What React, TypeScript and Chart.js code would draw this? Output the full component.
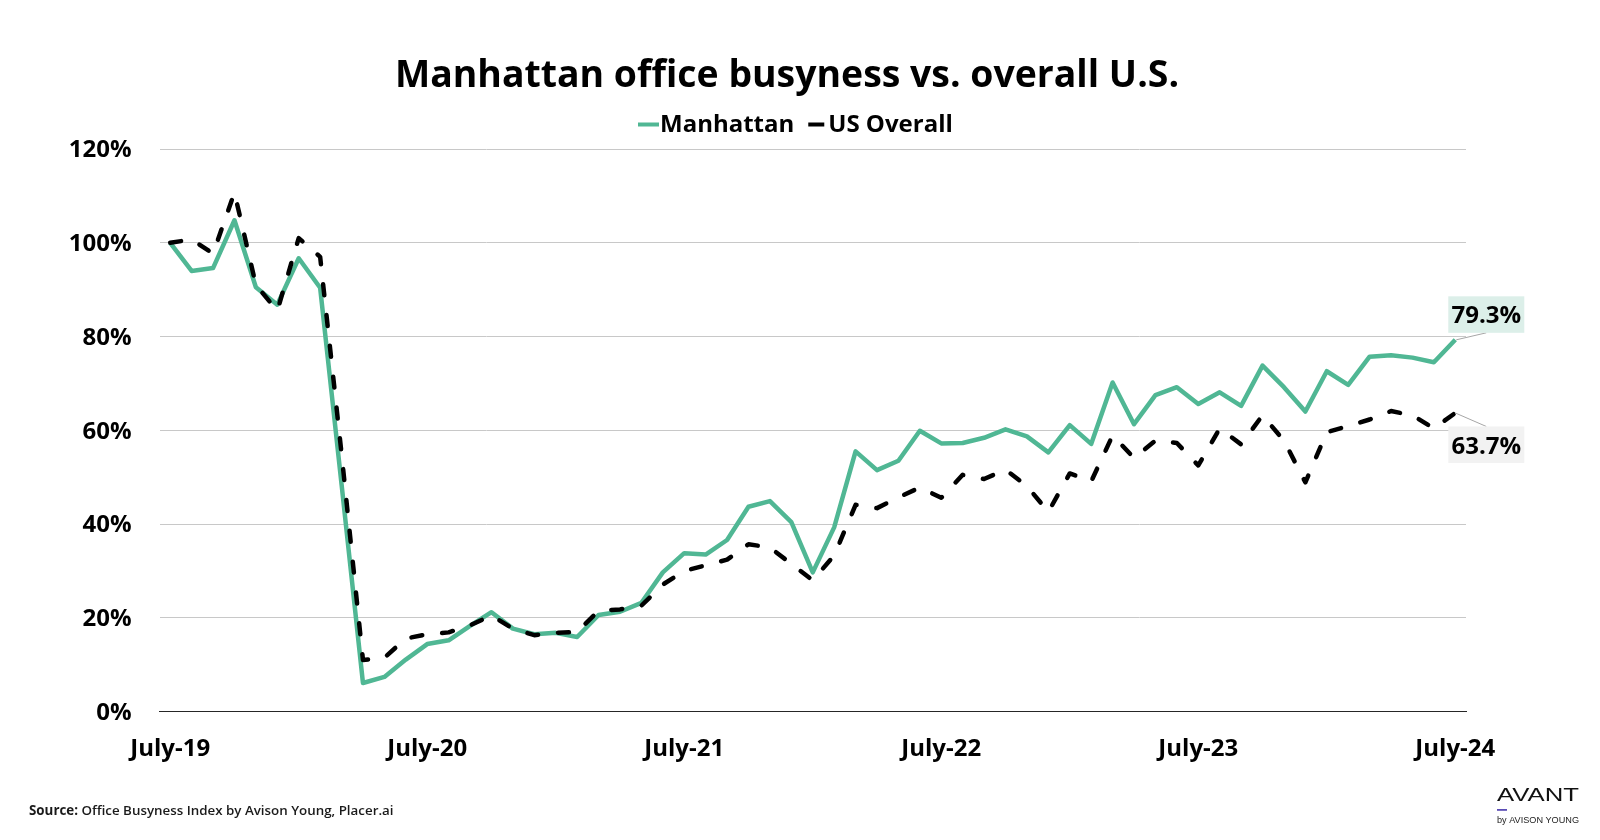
import React, { useEffect, useRef } from 'react';
import { Chart, registerables } from 'chart.js';

Chart.register(...registerables);

const categories = [
  'Jul-19', 'Aug-19', 'Sep-19', 'Oct-19', 'Nov-19', 'Dec-19', 'Jan-20', 'Feb-20', 'Mar-20', 'Apr-20', 'May-20', 'Jun-20',
  'Jul-20', 'Aug-20', 'Sep-20', 'Oct-20', 'Nov-20', 'Dec-20', 'Jan-21', 'Feb-21', 'Mar-21', 'Apr-21', 'May-21', 'Jun-21',
  'Jul-21', 'Aug-21', 'Sep-21', 'Oct-21', 'Nov-21', 'Dec-21', 'Jan-22', 'Feb-22', 'Mar-22', 'Apr-22', 'May-22', 'Jun-22',
  'Jul-22', 'Aug-22', 'Sep-22', 'Oct-22', 'Nov-22', 'Dec-22', 'Jan-23', 'Feb-23', 'Mar-23', 'Apr-23', 'May-23', 'Jun-23',
  'Jul-23', 'Aug-23', 'Sep-23', 'Oct-23', 'Nov-23', 'Dec-23', 'Jan-24', 'Feb-24', 'Mar-24', 'Apr-24', 'May-24', 'Jun-24',
  'Jul-24',
];

const tickLabels = ['July-19', 'July-20', 'July-21', 'July-22', 'July-23', 'July-24'];

const manhattan = [
  100, 94.0, 94.6, 104.8, 90.5, 86.8, 96.7, 90.4, 48.5, 6.1, 7.4, 11.1,
  14.4, 15.2, 18.3, 21.2, 17.7, 16.5, 16.8, 15.9, 20.6, 21.3, 23.2, 29.7,
  33.8, 33.5, 36.6, 43.7, 44.9, 40.4, 29.7, 39.3, 55.5, 51.5, 53.5, 59.9,
  57.2, 57.3, 58.4, 60.2, 58.7, 55.3, 61.1, 57.1, 70.2, 61.3, 67.5, 69.2,
  65.6, 68.1, 65.2, 73.8, 69.2, 64.0, 72.6, 69.7, 75.7, 76.0, 75.5, 74.5,
  79.3,
];

const usOverall = [
  100, 100.7, 97.7, 110.7, 91.0, 85.5, 101.0, 97.0, 55.0, 11.0, 11.5, 15.6,
  16.5, 16.9, 18.4, 20.5, 17.7, 16.3, 16.8, 17.0, 21.5, 21.8, 22.6, 27.1,
  30.0, 31.2, 32.4, 35.7, 35.0, 31.5, 28.0, 33.3, 44.1, 43.4, 45.7, 47.8,
  45.6, 50.5, 49.6, 51.6, 48.1, 42.6, 50.8, 49.1, 58.9, 54.1, 57.8, 57.3,
  52.5, 60.4, 57.0, 63.2, 57.8, 48.9, 59.6, 60.9, 62.3, 64.1, 63.2, 60.4,
  63.7,
];

const TITLE = 'Manhattan office busyness vs. overall U.S.';
const SERIES_NAMES = ['Manhattan', 'US Overall'];
const SOURCE_LABEL = 'Source:';
const SOURCE_TEXT = ' Office Busyness Index by Avison Young, Placer.ai';
const GREEN = '#50b794';
const FONT = "'Open Sans', 'Noto Sans', sans-serif";

const decorPlugin = {
  id: 'decor',
  afterDraw(chart: any) {
    const ctx: CanvasRenderingContext2D = chart.ctx;
    ctx.save();

    // Title
    ctx.fillStyle = '#000';
    ctx.textAlign = 'center';
    ctx.textBaseline = 'middle';
    ctx.font = `700 37.4px ${FONT}`;
    ctx.fillText(TITLE, 787, 76.5);

    // Legend
    ctx.font = `700 24px ${FONT}`;
    ctx.textAlign = 'left';
    let x = 638;
    const ly = 125;
    ctx.fillStyle = GREEN;
    ctx.fillRect(x, ly - 2.5, 21, 4);
    x += 22;
    ctx.fillStyle = '#000';
    ctx.fillText(SERIES_NAMES[0], x, ly);
    x += ctx.measureText(SERIES_NAMES[0]).width + 14;
    ctx.fillRect(x, ly - 2.5, 16, 4);
    x += 20;
    ctx.fillText(SERIES_NAMES[1], x, ly);

    // End labels
    const last = manhattan.length - 1;
    const mPt = chart.getDatasetMeta(1).data[last];
    const uPt = chart.getDatasetMeta(0).data[last];
    ctx.strokeStyle = '#a6a6a6';
    ctx.lineWidth = 1;
    ctx.beginPath();
    ctx.moveTo(mPt.x + 1, mPt.y);
    ctx.lineTo(mPt.x + 31, mPt.y - 7);
    ctx.moveTo(uPt.x, uPt.y);
    ctx.lineTo(uPt.x + 31, uPt.y + 13.5);
    ctx.stroke();

    const bw = 76;
    const bh = 36.5;
    ctx.fillStyle = '#dcefe9';
    ctx.fillRect(mPt.x - 7, mPt.y - 7 - bh, bw, bh);
    ctx.fillStyle = '#f2f2f2';
    ctx.fillRect(uPt.x - 7, uPt.y + 13.5, bw, bh);
    ctx.fillStyle = '#000';
    ctx.textAlign = 'center';
    ctx.font = `700 24px ${FONT}`;
    ctx.fillText(manhattan[last].toFixed(1) + '%', mPt.x - 7 + bw / 2, mPt.y - 7 - bh / 2 + 2);
    ctx.fillText(usOverall[last].toFixed(1) + '%', uPt.x - 7 + bw / 2, uPt.y + 13.5 + bh / 2 + 2);

    // Source
    ctx.textAlign = 'left';
    ctx.fillStyle = '#1a1a1a';
    ctx.font = `700 13.35px ${FONT}`;
    ctx.fillText(SOURCE_LABEL, 29, 811);
    const sw = ctx.measureText(SOURCE_LABEL).width;
    ctx.font = `600 13.35px ${FONT}`;
    ctx.fillText(SOURCE_TEXT, 29 + sw, 811);

    // Logo
    ctx.fillStyle = '#111';
    ctx.font = `500 19px 'Liberation Sans', Arial, sans-serif`;
    const aw = ctx.measureText('AVANT').width;
    ctx.save();
    ctx.translate(1497, 796);
    ctx.scale(82 / aw, 1);
    ctx.fillText('AVANT', 0, 0);
    ctx.restore();
    ctx.fillStyle = '#5b4db5';
    ctx.fillRect(1497, 809, 10, 1.8);
    ctx.fillStyle = '#222';
    ctx.font = `8.5px 'Liberation Sans', Arial, sans-serif`;
    const bwid = ctx.measureText('by AVISON YOUNG').width;
    ctx.save();
    ctx.translate(1497, 821);
    ctx.scale(82 / bwid, 1);
    ctx.fillText('by AVISON YOUNG', 0, 0);
    ctx.restore();

    ctx.restore();
  },
};

export default function App() {
  const canvasRef = useRef<HTMLCanvasElement | null>(null);

  useEffect(() => {
    if (!canvasRef.current) return;
    const chart = new Chart(canvasRef.current, {
      type: 'line',
      data: {
        labels: categories,
        datasets: [
          {
            label: SERIES_NAMES[1],
            data: usOverall,
            borderColor: '#000',
            borderWidth: 4.5,
            borderDash: [11, 20],
            borderCapStyle: 'round',
            borderJoinStyle: 'round',
            pointRadius: 0,
            tension: 0,
            fill: false,
            order: 0,
          },
          {
            label: SERIES_NAMES[0],
            data: manhattan,
            borderColor: GREEN,
            borderWidth: 4.5,
            borderJoinStyle: 'round',
            pointRadius: 0,
            tension: 0,
            fill: false,
            order: 1,
          },
        ],
      },
      options: {
        responsive: false,
        animation: false,
        layout: { padding: { left: 0, right: 134, top: 149, bottom: 68.4 } },
        plugins: {
          legend: { display: false },
          title: { display: false },
          tooltip: { enabled: false },
        },
        scales: {
          x: {
            offset: true,
            grid: { display: false, drawTicks: false },
            border: { display: true, color: '#262626', width: 1 },
            ticks: {
              autoSkip: false,
              maxRotation: 0,
              minRotation: 0,
              padding: 23.5,
              color: '#000',
              font: { family: FONT, size: 24, weight: '700' },
              callback: (_v: any, i: number) => (i % 12 === 0 ? tickLabels[i / 12] : ''),
            },
            afterFit: (s: any) => {
              s.height = 60;
            },
          },
          y: {
            min: 0,
            max: 120,
            grid: { color: '#c8c8c8', lineWidth: 1, drawTicks: false },
            border: { display: false },
            ticks: {
              stepSize: 20,
              padding: 28,
              labelOffset: 1.5,
              color: '#000',
              font: { family: FONT, size: 24, weight: '700' },
              callback: (v: any) => `${v}%`,
            },
            afterFit: (s: any) => {
              s.width = 159.5;
            },
          },
        },
      },
      plugins: [decorPlugin],
    });
    return () => chart.destroy();
  }, []);

  return (
    <div style={{ position: 'absolute', left: 0, top: 0, width: 1600, height: 840, background: '#fff' }}>
      <canvas ref={canvasRef} width={1600} height={840} />
    </div>
  );
}
